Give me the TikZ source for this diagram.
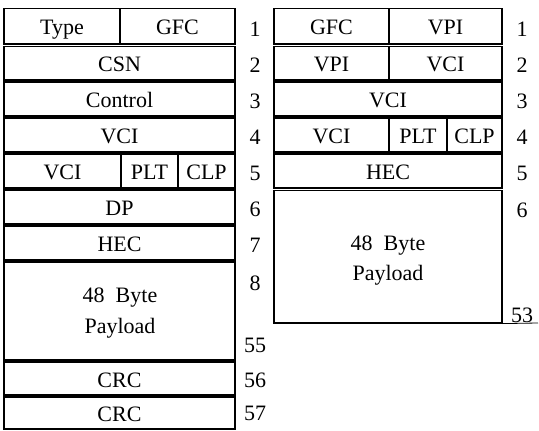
\documentclass[tikz,border=0pt]{standalone}
\usepackage{fontspec}
\setmainfont{Liberation Serif}
\tikzset{
  cell/.style={draw, line width=1.2pt, inner sep=0pt, text height=17pt, text depth=0pt, font=\fontsize{22}{24}\selectfont},
  lbl/.style={inner sep=0pt, anchor=base, font=\fontsize{22}{24}\selectfont},
  num/.style={inner sep=0pt, anchor=base, font=\fontsize{22}{24}\selectfont}
}
\newcommand{\cellbox}[6]{\node[cell, minimum width={(#4-#2)*1pt}, minimum height={(#5-#3)*1pt}] (#1) at ({(#2+#4)/2},{(#3+#5)/2}) {#6};}
\begin{document}
\begin{tikzpicture}[x=1pt,y=-1pt]
\useasboundingbox (0,0) rectangle (539,431);
% left column
\cellbox{la}{4}{8.5}{120}{44}{Type}
\cellbox{lb}{120}{8.5}{235}{44}{GFC}
\cellbox{lc}{4}{46.5}{235}{80}{CSN}
\cellbox{ld}{4}{82}{235}{116}{Control}
\cellbox{le}{4}{118}{235}{152}{VCI}
\cellbox{lf}{4}{154}{121}{188}{VCI}
\cellbox{lg}{121}{154}{178}{188}{PLT}
\cellbox{lh}{178}{154}{235}{188}{CLP}
\cellbox{li}{4}{190}{235}{224}{DP}
\cellbox{lj}{4}{226}{235}{260}{HEC}
\cellbox{lk}{4}{262}{235}{360}{}
\node[lbl] (lkt1) at (120,302) {48\hspace{0.5em}Byte};
\node[lbl] (lkt2) at (120,333) {Payload};
\cellbox{ll}{4}{362}{235}{395}{CRC}
\cellbox{lm}{4}{397}{235}{429}{CRC}
% left numbers
\node[num] (n1) at (255,36) {1};
\node[num] (n2) at (255,72) {2};
\node[num] (n3) at (255,108) {3};
\node[num] (n4) at (255,144) {4};
\node[num] (n5) at (255,180) {5};
\node[num] (n6) at (255,216) {6};
\node[num] (n7) at (255,252) {7};
\node[num] (n8) at (255,290) {8};
\node[num] (n55) at (255,352) {55};
\node[num] (n56) at (255,387) {56};
\node[num] (n57) at (255,420) {57};
% right column
\cellbox{ra}{274}{8.5}{389}{44}{GFC}
\cellbox{rb}{389}{8.5}{502}{44}{VPI}
\cellbox{rc}{274}{46.5}{389}{80}{VPI}
\cellbox{rd}{389}{46.5}{502}{80}{VCI}
\cellbox{re}{274}{82}{502}{116}{VCI}
\cellbox{rf}{274}{118}{389}{152}{VCI}
\cellbox{rg}{389}{118}{447}{152}{PLT}
\cellbox{rh}{447}{118}{502}{152}{CLP}
\cellbox{ri}{274}{154}{502}{188}{HEC}
\cellbox{rj}{274}{190.5}{502}{323}{}
\node[lbl] (rjt1) at (388,250) {48\hspace{0.5em}Byte};
\node[lbl] (rjt2) at (388,280) {Payload};
\coordinate (ext) at (538,323);
\draw[line width=0.8pt] (rj.south east) -- (ext);
% right numbers
\node[num] (m1) at (522,36) {1};
\node[num] (m2) at (522,72) {2};
\node[num] (m3) at (522,108) {3};
\node[num] (m4) at (522,144) {4};
\node[num] (m5) at (522,180) {5};
\node[num] (m6) at (522,217) {6};
\node[num] (m53) at (522,322) {53};
\end{tikzpicture}
\end{document}
